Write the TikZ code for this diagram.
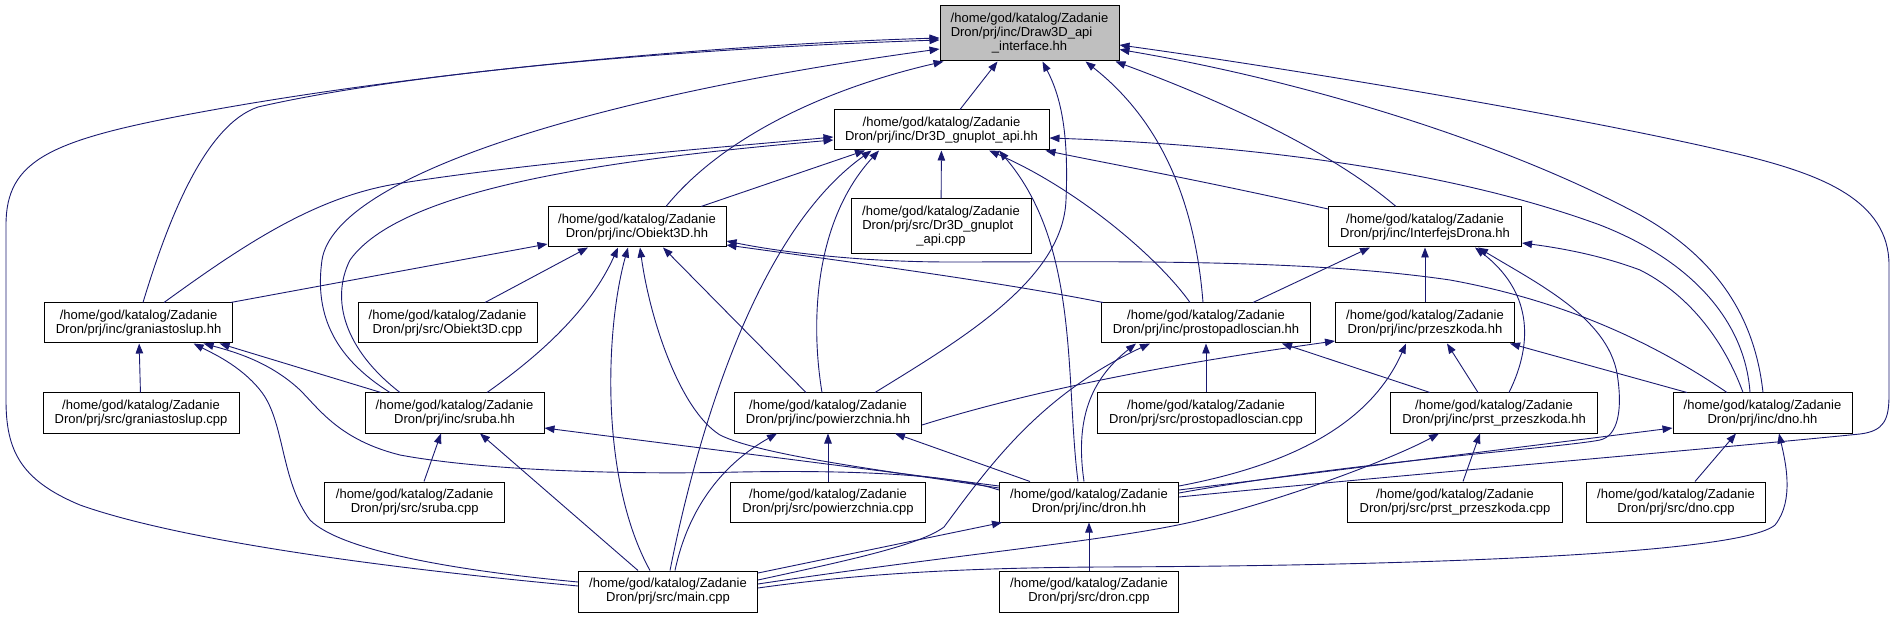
\documentclass[tikz,border=0pt]{standalone}
\usepackage{fontspec}
\setmainfont{Liberation Sans}
\usetikzlibrary{arrows.meta}
\definecolor{edgecol}{RGB}{25,25,112}
\definecolor{rootfill}{RGB}{191,191,191}
\newcommand\HomePath{/home/god/katalog/Zadanie}
\begin{document}
\begin{tikzpicture}[x=1pt,y=-1pt,
  box/.style={draw=black,line width=1pt,fill=white,align=center,inner sep=0pt,
    minimum height=40pt,font=\fontsize{13}{14}\selectfont},
  tall/.style={minimum height=55pt},
  e/.style={draw=edgecol,line width=0.9pt,-{Triangle[length=10pt,width=7.5pt]}}]
\useasboundingbox (0,0) rectangle (1898,617);

% ---------- nodes ----------
\node[box,tall,fill=rootfill,minimum width=179pt] (d3) at (1029.5,33.5)
  {\HomePath\\\makebox[157.5pt][l]{Dron/prj/inc/Draw3D\_api}\\\_interface.hh};
\node[box,minimum width=215pt] (gh) at (941.5,130) {\HomePath\\Dron/prj/inc/Dr3D\_gnuplot\_api.hh};
\node[box,tall,minimum width=180pt] (gc) at (941,226.5)
  {\HomePath\\\makebox[157.5pt][l]{Dron/prj/src/Dr3D\_gnuplot}\\\_api.cpp};
\node[box,minimum width=178pt] (oh) at (637,227) {\HomePath\\Dron/prj/inc/Obiekt3D.hh};
\node[box,minimum width=179pt] (oc) at (447.5,323) {\HomePath\\Dron/prj/src/Obiekt3D.cpp};
\node[box,minimum width=188pt] (grh) at (138.6,323) {\HomePath\\Dron/prj/inc/graniastoslup.hh};
\node[box,minimum width=196pt] (grc) at (141,413) {\HomePath\\Dron/prj/src/graniastoslup.cpp};
\node[box,minimum width=179pt] (sh) at (454.5,413) {\HomePath\\Dron/prj/inc/sruba.hh};
\node[box,minimum width=180pt] (sc) at (414.7,502) {\HomePath\\Dron/prj/src/sruba.cpp};
\node[box,minimum width=179pt,minimum height=41pt] (mc) at (668,591.5) {\HomePath\\Dron/prj/src/main.cpp};
\node[box,minimum width=187pt] (ph) at (828,413) {\HomePath\\Dron/prj/inc/powierzchnia.hh};
\node[box,minimum width=195pt] (pc) at (828,502) {\HomePath\\Dron/prj/src/powierzchnia.cpp};
\node[box,minimum width=179pt] (drh) at (1089,502) {\HomePath\\Dron/prj/inc/dron.hh};
\node[box,minimum width=179pt,minimum height=41pt] (drc) at (1089,591.5) {\HomePath\\Dron/prj/src/dron.cpp};
\node[box,minimum width=209pt] (prh) at (1206,323) {\HomePath\\Dron/prj/inc/prostopadloscian.hh};
\node[box,minimum width=218pt] (prc) at (1206,413) {\HomePath\\Dron/prj/src/prostopadloscian.cpp};
\node[box,minimum width=193pt] (ih) at (1425,227) {\HomePath\\Dron/prj/inc/InterfejsDrona.hh};
\node[box,minimum width=179pt] (zh) at (1425,323) {\HomePath\\Dron/prj/inc/przeszkoda.hh};
\node[box,minimum width=207pt] (sth) at (1494,413) {\HomePath\\Dron/prj/inc/prst\_przeszkoda.hh};
\node[box,minimum width=215pt] (stc) at (1455,502) {\HomePath\\Dron/prj/src/prst\_przeszkoda.cpp};
\node[box,minimum width=179pt] (dnh) at (1762.5,413) {\HomePath\\Dron/prj/inc/dno.hh};
\node[box,minimum width=179pt] (dnc) at (1676,502) {\HomePath\\Dron/prj/src/dno.cpp};

% ---------- edges into Draw3D_api_interface.hh ----------
\draw[e] ([yshift=5.5pt]mc.west) .. controls (300,560) and (150,530) .. (80,505)
  .. controls (20,480) and (6,450) .. (6,400) -- (6,225)
  .. controls (6,160) and (50,140) .. (196,113)
  .. controls (400,75) and (700,45) .. ([yshift=-4.5pt]d3.west);
\draw[e] ([xshift=4.4pt]grh.north) .. controls (168,220) and (205,125) .. (258,107)
  .. controls (420,70) and (700,48) .. ([yshift=-6.5pt]d3.west);
\draw[e] ([xshift=-64.5pt]sh.north) .. controls (330,355) and (315,310) .. (322,260)
  .. controls (335,175) and (600,95) .. ([yshift=-15.5pt]d3.west);
\draw[e] ([xshift=29pt]oh.north) .. controls (720,140) and (820,90) .. ([xshift=-86pt]d3.south);
\draw[e] ([xshift=18.5pt]gh.north) -- ([xshift=-32pt]d3.south);
\draw[e] ([xshift=47pt]ph.north) .. controls (960,340) and (1063,280) .. (1066,200)
  .. controls (1069,130) and (1060,95) .. ([xshift=13pt]d3.south);
\draw[e] ([xshift=-3pt]prh.north) .. controls (1195,200) and (1160,120) .. ([xshift=56pt]d3.south);
\draw[e] ([xshift=-29pt]ih.north) .. controls (1330,150) and (1220,100) .. ([xshift=86pt]d3.south);
\draw[e] ([xshift=0.5pt]dnh.north) .. controls (1755,320) and (1720,260) .. (1640,215)
  .. controls (1500,140) and (1300,80) .. ([yshift=-16pt]d3.east);
\draw[e] ([yshift=5pt]drh.east) .. controls (1400,475) and (1700,450) .. (1860,434)
  .. controls (1884,431) and (1889,420) .. (1889,395) -- (1889,265)
  .. controls (1889,200) and (1820,175) .. (1750,157)
  .. controls (1600,120) and (1300,70) .. ([yshift=-11.5pt]d3.east);

% ---------- edges into Dr3D_gnuplot_api.hh ----------
\draw[e] (gc) -- (gh);
\draw[e] ([xshift=64pt]oh.north) -- ([xshift=-76.5pt]gh.south);
\draw[e] ([xshift=25.4pt]grh.north) .. controls (250,240) and (320,195) .. (402,183)
  .. controls (550,160) and (750,145) .. ([yshift=-7pt]gh.west);
\draw[e] ([xshift=-54.5pt]sh.north) .. controls (345,350) and (330,300) .. (350,260)
  .. controls (400,190) and (600,160) .. ([yshift=-10pt]gh.west);
\draw[e] ([xshift=-6pt]ph.north) .. controls (810,320) and (815,220) .. ([xshift=-62.5pt]gh.south);
\draw[e] ([xshift=2pt]mc.north) .. controls (700,420) and (760,230) .. ([xshift=-70pt]gh.south);
\draw[e] ([xshift=-16pt]prh.north) .. controls (1160,260) and (1080,190) .. ([xshift=47.5pt]gh.south);
\draw[e] ([xshift=-11pt]drh.north) .. controls (1065,380) and (1080,245) .. ([xshift=57.5pt]gh.south);
\draw[e] ([yshift=18pt]ih.west) .. controls (1200,180) and (1100,162) .. ([xshift=104pt]gh.south);
\draw[e] ([xshift=-12.5pt]dnh.north) .. controls (1745,320) and (1690,260) .. (1600,225)
  .. controls (1450,170) and (1250,145) .. ([yshift=-8pt]gh.east);

% ---------- edges into Obiekt3D.hh ----------
\draw[e] ([xshift=92pt]grh.north) -- ([yshift=-17pt]oh.west);
\draw[e] ([xshift=37.5pt]oc.north) -- ([xshift=-49pt]oh.south);
\draw[e] ([xshift=32.5pt]sh.north) .. controls (540,355) and (590,310) .. ([xshift=-19pt]oh.south);
\draw[e] ([xshift=-18pt]mc.north) .. controls (600,480) and (605,330) .. ([xshift=-9pt]oh.south);
\draw[e] ([yshift=14pt]drh.west) .. controls (880,470) and (760,455) .. (720,435)
  .. controls (680,410) and (650,320) .. ([xshift=3pt]oh.south);
\draw[e] ([xshift=-22pt]ph.north) -- ([xshift=26pt]oh.south);
\draw[e] ([xshift=-103pt]prh.north) .. controls (1000,282) and (850,262) .. ([yshift=-18pt]oh.east);
\draw[e] ([xshift=-35.5pt]dnh.north) .. controls (1650,340) and (1560,300) .. (1450,280)
  .. controls (1300,258) and (1100,262) .. (950,262)
  .. controls (850,262) and (770,250) .. ([yshift=-14pt]oh.east);

% ---------- edges into graniastoslup.hh ----------
\draw[e] (grc) -- (grh);
\draw[e] ([xshift=-73.5pt]sh.north) -- ([xshift=81pt]grh.south);
\draw[e] ([yshift=12pt]drh.west) .. controls (950,474) and (850,470) .. (740,472)
  .. controls (620,475) and (480,470) .. (400,455)
  .. controls (340,440) and (320,410) .. (300,390)
  .. controls (270,362) and (235,352) .. ([xshift=65pt]grh.south);
\draw[e] ([yshift=9.5pt]mc.west) .. controls (450,570) and (340,550) .. (310,520)
  .. controls (280,480) and (285,420) .. (260,390)
  .. controls (240,365) and (210,352) .. ([xshift=55pt]grh.south);

% ---------- edges into sruba.hh ----------
\draw[e] ([xshift=9.3pt]sc.north) -- ([xshift=-13.5pt]sh.south);
\draw[e] ([xshift=-30pt]mc.north) -- ([xshift=25.5pt]sh.south);
\draw[e] ([yshift=16pt]drh.west) -- ([yshift=-15pt]sh.east);

% ---------- edges into powierzchnia.hh ----------
\draw[e] (pc) -- (ph);
\draw[e] ([xshift=7pt]mc.north) .. controls (690,500) and (730,460) .. ([xshift=-51pt]ph.south);
\draw[e] ([xshift=-59pt]drh.north) -- ([xshift=67pt]ph.south);

% ---------- edges into prostopadloscian.hh ----------
\draw[e] (prc) -- (prh);
\draw[e] ([xshift=-5pt]drh.north) .. controls (1075,420) and (1090,380) .. ([xshift=-70pt]prh.south);
\draw[e] ([yshift=11.5pt]mc.east) .. controls (850,560) and (920,545) .. (944,527)
  .. controls (990,465) and (1040,395) .. ([xshift=-56pt]prh.south);
\draw[e] ([xshift=-64pt]sth.north) -- ([xshift=76pt]prh.south);

% ---------- edges into InterfejsDrona.hh ----------
\draw[e] ([xshift=47pt]prh.north) -- ([xshift=-55pt]ih.south);
\draw[e] (zh) -- (ih);
\draw[e] ([xshift=15pt]sth.north) .. controls (1535,340) and (1530,290) .. ([xshift=50pt]ih.south);
\draw[e] ([yshift=9pt]drh.east) .. controls (1350,462) and (1560,448) .. (1600,440)
  .. controls (1618,436) and (1622,410) .. (1618,380)
  .. controls (1612,320) and (1540,285) .. ([xshift=53pt]ih.south);
\draw[e] ([xshift=-19.5pt]dnh.north) .. controls (1720,330) and (1680,290) .. (1640,270)
  .. controls (1600,255) and (1560,248) .. ([yshift=-16pt]ih.east);

% ---------- edges into przeszkoda.hh ----------
\draw[e] ([yshift=-12pt]ph.east) .. controls (1050,385) and (1200,360) .. ([yshift=-18pt]zh.west);
\draw[e] ([xshift=-16pt]sth.north) -- ([xshift=22pt]zh.south);
\draw[e] ([xshift=-75.5pt]dnh.north) -- ([xshift=85pt]zh.south);
\draw[e] ([yshift=16pt]drh.east) .. controls (1290,465) and (1370,425) .. ([xshift=-19pt]zh.south);

% ---------- edges into prst_przeszkoda.hh ----------
\draw[e] ([xshift=8pt]stc.north) -- ([xshift=-14pt]sth.south);
\draw[e] ([yshift=7.5pt]mc.east) .. controls (950,555) and (1120,540) .. (1200,520)
  .. controls (1300,495) and (1400,455) .. ([xshift=-55pt]sth.south);

% ---------- edges into dno.hh ----------
\draw[e] ([xshift=19pt]dnc.north) -- ([xshift=-26.5pt]dnh.south);
\draw[e] ([yshift=12pt]drh.east) -- ([yshift=-15pt]dnh.west);
\draw[e] ([yshift=3.5pt]mc.east) .. controls (850,575) and (950,568) .. (1100,567)
  .. controls (1400,566) and (1740,555) .. (1775,525)
  .. controls (1795,500) and (1785,460) .. ([xshift=16.5pt]dnh.south);

% ---------- edges into dron.hh ----------
\draw[e] (drc) -- (drh);
\draw[e] ([yshift=18.5pt]mc.east) -- ([xshift=-87pt]drh.south);
\end{tikzpicture}
\end{document}
